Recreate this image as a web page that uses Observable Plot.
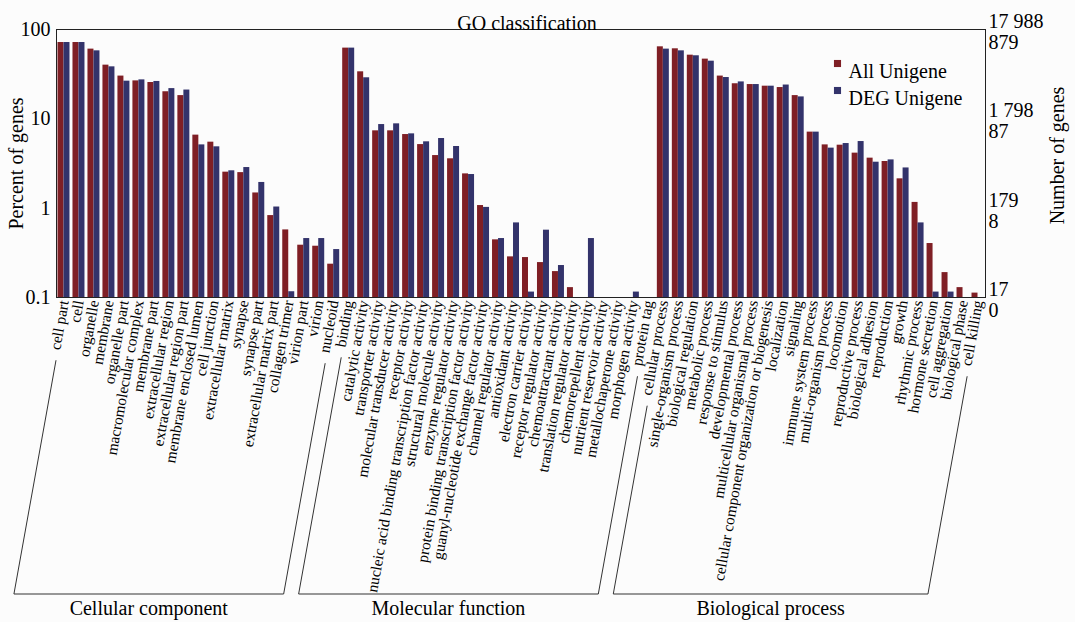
<!DOCTYPE html>
<html><head><meta charset="utf-8">
<script src="https://cdn.jsdelivr.net/npm/d3@7"></script>
<script src="https://cdn.jsdelivr.net/npm/@observablehq/plot@0.6"></script>
<style>
body{margin:0;background:#fcfcfc}
svg{display:block}
svg, svg text{font-family:'Liberation Serif','Times New Roman',serif !important}
</style>
</head><body><div id="chart"></div>
<script>
const title = "GO classification";
const groups = ["Cellular component", "Molecular function", "Biological process"];
const ccTerms = ["cell part","cell","organelle","membrane","organelle part","macromolecular complex","membrane part","extracellular region","extracellular region part","membrane enclosed lumen","cell junction","extracellular matrix","synapse","synapse part","extracellular matrix part","collagen trimer","virion part","virion","nucleoid"];
const mfTerms = ["binding","catalytic activity","transporter activity","molecular transducer activity","receptor activity","nucleic acid binding transcription factor activity","structural molecule activity","enzyme regulator activity","protein binding transcription factor activity","guanyl-nucleotide exchange factor activity","channel regulator activity","antioxidant activity","electron carrier activity","receptor regulator activity","chemoattractant activity","translation regulator activity","chemorepellent activity","nutrient reservoir activity","metallochaperone activity","morphogen activity","protein tag"];
const bpTerms = ["cellular process","single-organism process","biological regulation","metabolic process","response to stimulus","developmental process","multicellular organismal process","cellular component organization or biogenesis","localization","signaling","immune system process","multi-organism process","locomotion","reproductive process","biological adhesion","reproduction","growth","rhythmic process","hormone secretion","cell aggregation","biological phase","cell killing"];

const ccAll = [71.5,71.5,60.3,39.9,30.1,26.6,25.5,20.1,18.2,6.57,5.48,2.53,2.50,1.48,0.826,0.571,0.385,0.375,0.236];
const ccDeg = [71.5,71.5,57.7,38.2,26.4,27.3,26.2,21.8,21.0,5.11,4.86,2.62,2.85,1.94,1.03,0.116,0.457,0.457,0.344];
const mfAll = [61.9,33.6,7.34,7.34,6.67,5.15,3.88,3.57,2.42,1.07,0.442,0.285,0.280,0.246,0.195,0.129,null,null,null,null,null];
const mfDeg = [61.9,28.8,8.63,8.79,6.79,5.53,6.02,4.90,2.38,1.02,0.457,0.684,0.115,0.567,0.228,null,0.457,null,null,0.115,null];
const bpAll = [64.0,60.8,51.6,46.6,30.1,24.7,24.2,23.2,22.4,18.2,7.10,5.11,5.07,4.13,3.63,3.33,2.13,1.16,0.402,0.190,0.129,0.112];
const bpDeg = [60.3,57.7,50.8,44.2,29.0,25.9,24.2,23.2,23.9,17.6,7.10,4.70,5.29,5.57,3.27,3.47,2.82,0.684,0.115,0.115,null,null];

const series = ["All Unigene", "DEG Unigene"];
const colors = ["#7f1f25", "#33336b"];
const yTicks = [100, 10, 1, 0.1];
const yTickLabels = ["100", "10", "1", "0.1"];
const allCountLabels = ["17 988", "1 798", "179", "17"];
const degCountLabels = ["879", "87", "8", "0"];
const yLabel = "Percent of genes";
const y2Label = "Number of genes";

const groupTerms = [ccTerms, mfTerms, bpTerms];
const terms = [...ccTerms, ...mfTerms, ...bpTerms];
const allVals = [...ccAll, ...mfAll, ...bpAll];
const degVals = [...ccDeg, ...mfDeg, ...bpDeg];
const rowsAll = terms.map((t, i) => ({term: t, value: allVals[i]})).filter(d => d.value != null);
const rowsDeg = terms.map((t, i) => ({term: t, value: degVals[i]})).filter(d => d.value != null);

const font = "'Liberation Serif', 'Times New Roman', serif";

const plot = Plot.plot({
  width: 1075,
  height: 622,
  marginLeft: 56,
  marginRight: 90,
  marginTop: 29,
  marginBottom: 325,
  style: {background: "#fcfcfc", fontFamily: font, color: "#000"},
  x: {domain: terms, paddingInner: 0.2, paddingOuter: 0.1},
  y: {type: "log", domain: [0.1, 100]},
  marks: [
    Plot.barY(rowsAll, {x: "term", y1: 0.1, y2: "value", fill: colors[0], insetRight: 6}),
    Plot.barY(rowsDeg, {x: "term", y1: 0.1, y2: "value", fill: colors[1], insetLeft: 6}),
    Plot.frame({stroke: "#222"}),
    Plot.axisY(yTicks, {anchor: "left", tickFormat: d => yTickLabels[yTicks.indexOf(d)], tickSize: 0, tickPadding: 6, fontSize: 20, label: null}),
    Plot.axisY(yTicks, {anchor: "right", tickFormat: d => allCountLabels[yTicks.indexOf(d)], tickSize: 0, tickPadding: 3, fontSize: 20, dy: -8, label: null}),
    Plot.axisY(yTicks, {anchor: "right", tickFormat: d => degCountLabels[yTicks.indexOf(d)], tickSize: 0, tickPadding: 3, fontSize: 20, dy: 13, label: null}),
    Plot.axisX({anchor: "bottom", tickRotate: -80, tickSize: 0, tickPadding: 3, fontSize: 15.4, label: null}),
    Plot.text([yLabel], {frameAnchor: "left", dx: -40, rotate: -90, textAnchor: "middle", text: d => d, fontSize: 20}),
    Plot.text([y2Label], {frameAnchor: "right", dx: 72, dy: -8, rotate: -90, textAnchor: "middle", text: d => d, fontSize: 20}),
    Plot.text([title], {frameAnchor: "top", dx: 6, dy: -14, text: d => d, fontSize: 20}),
    ...series.flatMap((s, i) => [
      Plot.dot([s], {frameAnchor: "top-right", dx: -148, dy: 34 + 27 * i, symbol: "square", r: 4, fill: colors[i], stroke: null}),
      Plot.text([s], {frameAnchor: "top-right", dx: -137, dy: 34 + 27 * i, text: d => d, textAnchor: "start", fontSize: 20})
    ])
  ]
});
document.getElementById("chart").append(plot);

// group brackets beneath the rotated category labels
const xs = plot.scale("x");
const svg = d3.select(plot);
const lengths = new Map();
svg.selectAll('g[aria-label="x-axis tick label"] text').each(function () {
  lengths.set(this.textContent, this.getComputedTextLength());
});
const baseY = 302, bracketY = 594, slope = 0.18, cos10 = Math.cos(10 * Math.PI / 180);
const g = svg.append("g").attr("fill", "none").attr("stroke", "#333").attr("stroke-width", 1);
groupTerms.forEach((gt, gi) => {
  const ends = [gt[0], gt[gt.length - 1]].map(t => {
    const xc = xs.apply(t) + xs.bandwidth / 2;
    const len = lengths.has(t) ? lengths.get(t) : 50;
    const yTop = baseY + len * cos10 + 9;
    return {top: [xc + 3 - (yTop - baseY) * slope, yTop], bottom: [xc + 3 - (bracketY - baseY) * slope, bracketY]};
  });
  g.append("path").attr("d", d3.line()([ends[0].top, ends[0].bottom, ends[1].bottom, ends[1].top]));
  svg.append("text")
    .attr("x", (ends[0].bottom[0] + ends[1].bottom[0]) / 2)
    .attr("y", 615)
    .attr("text-anchor", "middle")
    .attr("font-size", 20)
    .attr("fill", "#000")
    .text(groups[gi]);
});
</script>
</body></html>
